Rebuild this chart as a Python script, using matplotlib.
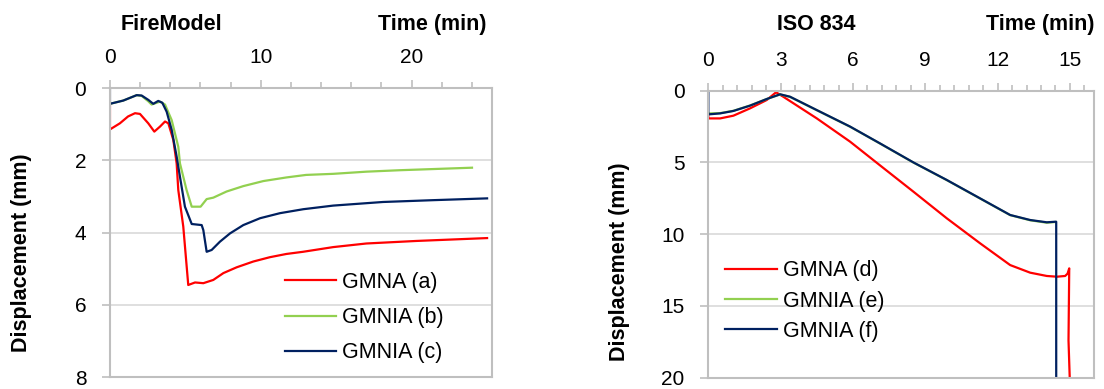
import matplotlib
matplotlib.use("Agg")
import matplotlib.pyplot as plt
from matplotlib.ticker import MultipleLocator

plt.rcParams['font.family'] = ['Liberation Sans', 'DejaVu Sans']

# ---- FireModel (left) ----
t_a = [0, 0, 0.66, 1.2, 1.66, 1.99, 2.54, 2.94, 3.32, 3.65, 3.87, 4.2, 4.42, 4.53, 4.86, 5.19,
       5.64, 6.19, 6.85, 7.52, 8.4, 9.5, 10.6, 11.7, 12.8, 14.8, 17.0, 20.3, 25.0]
d_a = [0.46, 1.14, 0.97, 0.78, 0.69, 0.71, 0.97, 1.2, 1.06, 0.92, 0.97, 1.43, 2.08, 2.82, 3.83, 5.45,
       5.38, 5.4, 5.31, 5.12, 4.96, 4.8, 4.68, 4.59, 4.53, 4.4, 4.3, 4.23, 4.15]

t_b = [0, 0.88, 1.77, 2.1, 2.54, 2.76, 3.32, 3.65, 4.09, 4.53, 4.64, 5.08, 5.42, 6.01, 6.41, 6.85,
       7.73, 8.84, 10.17, 11.7, 13.0, 14.8, 17.0, 19.2, 24.0]
d_b = [0.43, 0.34, 0.19, 0.21, 0.36, 0.45, 0.37, 0.45, 0.88, 1.62, 2.08, 2.82, 3.28, 3.28, 3.07, 3.03,
       2.86, 2.71, 2.57, 2.47, 2.4, 2.37, 2.31, 2.27, 2.2]

t_c = [0, 0, 0.88, 1.77, 2.1, 2.54, 2.87, 3.2, 3.47, 3.76, 4.09, 4.42, 4.64, 4.97, 5.42, 6.08, 6.19,
       6.41, 6.74, 7.29, 7.96, 8.84, 9.95, 11.27, 12.82, 14.8, 18.1, 21.4, 25.0]
d_c = [0.0, 0.43, 0.34, 0.19, 0.2, 0.32, 0.43, 0.35, 0.4, 0.65, 1.15, 1.89, 2.45, 3.28, 3.76, 3.79, 3.93,
       4.53, 4.48, 4.25, 4.02, 3.79, 3.6, 3.46, 3.35, 3.25, 3.15, 3.1, 3.05]

# ---- ISO 834 (right) ----
t_d = [0, 0, 0.49, 1.04, 1.73, 2.42, 2.81, 3.11, 4.5, 5.88, 7.12, 8.51, 9.89, 11.27, 12.52, 13.35,
       14.04, 14.46, 14.8, 14.9, 14.97, 14.94, 15.0]
d_d = [1.7, 1.93, 1.93, 1.74, 1.23, 0.65, 0.11, 0.42, 1.93, 3.55, 5.2, 7.04, 8.89, 10.63, 12.15, 12.68,
       12.91, 12.96, 12.91, 12.75, 12.38, 17.4, 20.5]

t_e = [0, 0.49, 1.04, 1.73, 2.42, 2.98, 3.39, 4.5, 5.88, 7.12, 8.51, 9.89, 11.27, 12.52, 13.35, 14.04,
       14.39]
d_e = [1.58, 1.56, 1.4, 1.03, 0.58, 0.26, 0.43, 1.36, 2.51, 3.68, 5.01, 6.23, 7.51, 8.67, 9.03, 9.2,
       9.15]

t_f = [0, 0, 0.49, 1.04, 1.73, 2.42, 2.98, 3.39, 4.5, 5.88, 7.12, 8.51, 9.89, 11.27, 12.52, 13.35,
       14.04, 14.39, 14.43, 14.43]
d_f = [0.0, 1.65, 1.58, 1.41, 1.04, 0.58, 0.25, 0.42, 1.35, 2.5, 3.67, 5.0, 6.22, 7.5, 8.66, 9.01,
       9.17, 9.13, 9.13, 20.5]

RED = '#FF0000'
GREEN = '#92D050'
NAVY = '#002060'
GRID = '#D9D9D9'
SPINE = '#BFBFBF'

fig = plt.figure(figsize=(11.04, 3.89), dpi=100)
ax1 = fig.add_axes([0.0996, 0.0308, 0.3457, 0.7422])
ax2 = fig.add_axes([0.6416, 0.029, 0.3494, 0.7378])


def style_axes(ax, xmax, xmajor, xminor, ymax, ymajor):
    ax.set_xlim(0, xmax)
    ax.set_ylim(ymax, 0)
    ax.xaxis.tick_top()
    ax.xaxis.set_major_locator(MultipleLocator(xmajor))
    ax.xaxis.set_minor_locator(MultipleLocator(xminor))
    ax.yaxis.set_major_locator(MultipleLocator(ymajor))
    ax.grid(axis='y', color=GRID, lw=1.2)
    ax.set_axisbelow(True)
    for s in ax.spines.values():
        s.set_color(SPINE)
        s.set_linewidth(1.5)
    ax.tick_params(axis='x', which='major', length=6, width=1.2, color=SPINE,
                   labelsize=15, pad=9)
    ax.tick_params(axis='x', which='minor', length=4, width=1.2, color=SPINE)
    ax.tick_params(axis='y', which='major', length=6, width=1.2, color=SPINE,
                   labelsize=15, pad=11)


style_axes(ax1, 25.3, 10, 2, 8, 2)
style_axes(ax2, 16, 3, 0.6, 20, 5)

ax1.plot(t_a, d_a, color=RED, lw=1.6, label='GMNA (a)')
ax1.plot(t_b, d_b, color=GREEN, lw=1.6, label='GMNIA (b)')
ax1.plot(t_c, d_c, color=NAVY, lw=1.6, label='GMNIA (c)')

ax2.plot(t_d, d_d, color=RED, lw=1.6, label='GMNA (d)')
ax2.plot(t_e, d_e, color=GREEN, lw=1.6, label='GMNIA (e)')
ax2.plot(t_f, d_f, color=NAVY, lw=1.6, label='GMNIA (f)')

ax1.legend(loc='upper left', bbox_to_anchor=(0.458, 0.364), frameon=False,
           fontsize=15.5, borderpad=0, borderaxespad=0, handlelength=2.4,
           handletextpad=0.28, labelspacing=0.66)
ax2.legend(loc='upper left', bbox_to_anchor=(0.043, 0.41), frameon=False,
           fontsize=15.5, borderpad=0, borderaxespad=0, handlelength=2.4,
           handletextpad=0.28, labelspacing=0.44)

# headers and axis titles
fig.text(171 / 1104, 0.938, 'FireModel', ha='center', va='center',
         fontsize=15.5, fontweight='bold')
fig.text(486 / 1104, 0.938, 'Time (min)', ha='right', va='center',
         fontsize=15.5, fontweight='bold')
fig.text(816 / 1104, 0.938, 'ISO 834', ha='center', va='center',
         fontsize=15.5, fontweight='bold')
fig.text(1094 / 1104, 0.938, 'Time (min)', ha='right', va='center',
         fontsize=15.5, fontweight='bold')
fig.text(22 / 1104, 0.351, 'Displacement (mm)', rotation=90, ha='center',
         va='center', fontsize=15.5, fontweight='bold')
fig.text(620 / 1104, 0.326, 'Displacement (mm)', rotation=90, ha='center',
         va='center', fontsize=15.5, fontweight='bold')

fig.savefig('out.png', dpi=100)
